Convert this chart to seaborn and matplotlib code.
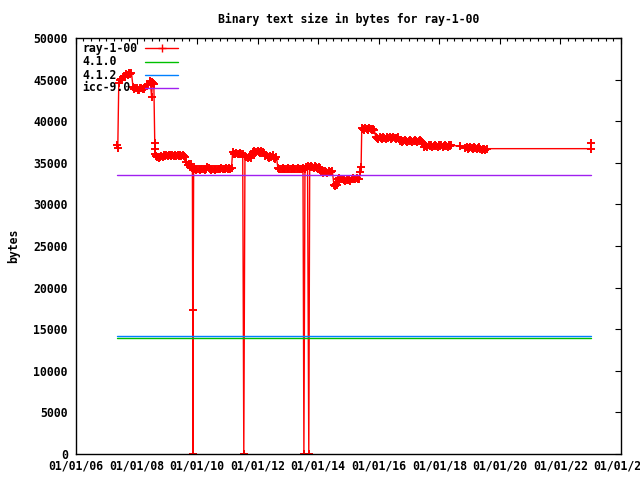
import matplotlib
matplotlib.use('Agg')
import matplotlib.pyplot as plt
import matplotlib.dates as mdates
import pandas as pd
import seaborn as sns

TITLE = 'Binary text size in bytes for ray-1-00'
SERIES_NAMES = ['ray-1-00', '4.1.0', '4.1.2', 'icc-9.0']
SERIES_COLORS = ['#ff0000', '#00c000', '#0080ff', '#a020f0']

# ray-1-00 builds (0 = failed build)
ray_dates = [
    '2007-05-08', '2007-05-20', '2007-06-01', '2007-06-15', '2007-07-01', '2007-07-15',
    '2007-08-01', '2007-08-15', '2007-09-01', '2007-09-15', '2007-10-01', '2007-10-15',
    '2007-11-01', '2007-11-20', '2007-12-01', '2007-12-15', '2008-01-01', '2008-01-15',
    '2008-02-01', '2008-02-15', '2008-03-01', '2008-03-15', '2008-04-01', '2008-04-15',
    '2008-05-01', '2008-05-20', '2008-06-15', '2008-07-01', '2008-07-10', '2008-07-20',
    '2008-07-28', '2008-08-08', '2008-08-12', '2008-08-16', '2008-08-25', '2008-09-10',
    '2008-09-25', '2008-10-10', '2008-10-25', '2008-11-10', '2008-11-25', '2008-12-10',
    '2008-12-25', '2009-01-10', '2009-01-25', '2009-02-10', '2009-02-25', '2009-03-10',
    '2009-03-25', '2009-04-10', '2009-04-25', '2009-05-10', '2009-05-25', '2009-06-10',
    '2009-06-25', '2009-07-10', '2009-07-25', '2009-08-10', '2009-08-25', '2009-09-10',
    '2009-09-25', '2009-10-10', '2009-10-25', '2009-11-05', '2009-11-12', '2009-11-14',
    '2009-11-20', '2009-12-05', '2009-12-20', '2010-01-05', '2010-01-20', '2010-02-05',
    '2010-02-20', '2010-03-05', '2010-03-20', '2010-04-05', '2010-04-20', '2010-05-05',
    '2010-05-20', '2010-06-05', '2010-06-20', '2010-07-05', '2010-07-20', '2010-08-05',
    '2010-08-20', '2010-09-05', '2010-09-20', '2010-10-05', '2010-10-20', '2010-11-05',
    '2010-11-20', '2010-12-05', '2010-12-20', '2011-01-05', '2011-01-20', '2011-02-05',
    '2011-02-20', '2011-03-05', '2011-03-20', '2011-04-05', '2011-04-20', '2011-05-05',
    '2011-05-20', '2011-06-05', '2011-06-20', '2011-07-05', '2011-07-18', '2011-08-01',
    '2011-08-15', '2011-09-01', '2011-09-15', '2011-10-01', '2011-10-15', '2011-11-01',
    '2011-11-15', '2011-12-01', '2011-12-15', '2012-01-01', '2012-01-15', '2012-02-01',
    '2012-02-15', '2012-03-01', '2012-03-15', '2012-04-01', '2012-04-15', '2012-05-01',
    '2012-05-15', '2012-06-01', '2012-06-15', '2012-07-01', '2012-07-15', '2012-08-01',
    '2012-08-15', '2012-09-01', '2012-09-15', '2012-10-01', '2012-10-15', '2012-11-01',
    '2012-11-15', '2012-12-01', '2012-12-15', '2013-01-01', '2013-01-15', '2013-02-01',
    '2013-02-15', '2013-03-01', '2013-03-15', '2013-04-01', '2013-04-15', '2013-05-01',
    '2013-05-15', '2013-06-01', '2013-06-15', '2013-07-01', '2013-07-12', '2013-07-25',
    '2013-08-10', '2013-08-25', '2013-09-09', '2013-09-20', '2013-10-05', '2013-10-20',
    '2013-11-05', '2013-11-20', '2013-12-05', '2013-12-20', '2014-01-05', '2014-01-20',
    '2014-02-05', '2014-02-20', '2014-03-05', '2014-03-20', '2014-04-05', '2014-04-20',
    '2014-05-05', '2014-05-20', '2014-06-05', '2014-06-20', '2014-07-10', '2014-07-20',
    '2014-08-01', '2014-08-15', '2014-08-25', '2014-09-10', '2014-09-25', '2014-10-10',
    '2014-10-25', '2014-11-10', '2014-11-25', '2014-12-10', '2014-12-25', '2015-01-10',
    '2015-01-25', '2015-02-10', '2015-02-25', '2015-03-10', '2015-03-25', '2015-04-10',
    '2015-04-25', '2015-05-10', '2015-05-25', '2015-06-02', '2015-06-10', '2015-06-25',
    '2015-07-10', '2015-07-25', '2015-08-10', '2015-08-25', '2015-09-10', '2015-09-25',
    '2015-10-10', '2015-10-25', '2015-11-10', '2015-11-25', '2015-12-10', '2015-12-25',
    '2016-01-10', '2016-01-25', '2016-02-10', '2016-02-25', '2016-03-10', '2016-03-25',
    '2016-04-10', '2016-04-25', '2016-05-10', '2016-05-25', '2016-06-10', '2016-06-25',
    '2016-07-10', '2016-07-25', '2016-08-10', '2016-08-25', '2016-09-10', '2016-09-25',
    '2016-10-10', '2016-10-25', '2016-11-10', '2016-11-25', '2016-12-10', '2016-12-25',
    '2017-01-10', '2017-01-25', '2017-02-10', '2017-02-25', '2017-03-10', '2017-03-25',
    '2017-04-10', '2017-04-25', '2017-05-10', '2017-05-25', '2017-06-10', '2017-06-25',
    '2017-07-10', '2017-07-25', '2017-08-10', '2017-08-25', '2017-09-10', '2017-09-25',
    '2017-10-10', '2017-10-25', '2017-11-10', '2017-11-25', '2017-12-10', '2017-12-25',
    '2018-01-10', '2018-01-25', '2018-02-10', '2018-02-25', '2018-03-10', '2018-03-25',
    '2018-04-10', '2018-04-25', '2018-05-10', '2018-05-25', '2018-09-05', '2018-11-10',
    '2018-11-25', '2018-12-10', '2018-12-25', '2019-01-10', '2019-01-25', '2019-02-10',
    '2019-02-25', '2019-03-10', '2019-03-25', '2019-04-10', '2019-04-25', '2019-05-10',
    '2019-05-25', '2019-06-10', '2019-06-25', '2019-07-10', '2019-07-25', '2023-01-01',
    '2023-01-06',
]
ray_bytes = [
    37100, 36800, 44600, 45000, 45100, 44900,
    45400, 45300, 45700, 45600, 45800, 45700,
    45800, 44100, 43900, 44000, 44000, 43800,
    43800, 44000, 44000, 43900, 43900, 44100,
    44300, 44400, 44800, 42900, 44700, 44600,
    44500, 37400, 36700, 36000, 35800, 35700,
    35600, 35700, 35800, 35700, 35900, 35800,
    35900, 35800, 35900, 35900, 35800, 35900,
    35800, 35900, 35800, 35900, 35800, 35900,
    35800, 35900, 35800, 35700, 35100, 34700,
    34900, 34500, 34800, 34400, 0, 17300,
    34300, 34200, 34100, 34200, 34300, 34100,
    34200, 34300, 34200, 34100, 34300, 34500,
    34400, 34200, 34100, 34200, 34300, 34100,
    34200, 34300, 34200, 34300, 34400, 34300,
    34200, 34300, 34400, 34300, 34400, 34300,
    34400, 36300, 36100, 36000, 36200, 36100,
    36000, 36200, 36100, 36000, 0, 35800,
    35700, 35600, 35700, 35800, 35600, 36300,
    36400, 36200, 36300, 36400, 36300, 36200,
    36400, 36300, 36200, 35800, 35900, 35700,
    35600, 35800, 35700, 35900, 35600, 35500,
    35700, 34400, 34300, 34200, 34300, 34400,
    34300, 34200, 34300, 34400, 34300, 34200,
    34300, 34400, 34300, 34200, 34300, 34400,
    34300, 34200, 34300, 34400, 0, 34300,
    34500, 34600, 0, 34500, 34600, 34500,
    34400, 34600, 34500, 34400, 34500, 34400,
    33900, 34000, 33800, 34000, 33900, 33800,
    34000, 33900, 33900, 34000, 32300, 32200,
    32400, 32300, 33100, 33200, 33000, 33100,
    33000, 32900, 32800, 32900, 33000, 32900,
    32800, 33100, 33200, 33100, 33000, 33200,
    33100, 33000, 33900, 34500, 39200, 39100,
    39000, 39200, 39100, 39000, 39200, 39100,
    39000, 39100, 38900, 38100, 38000, 37900,
    38100, 38000, 37900, 38100, 38000, 37900,
    38100, 38000, 38100, 37900, 38000, 38100,
    38000, 37900, 38000, 38100, 37600, 37700,
    37500, 37600, 37700, 37600, 37500, 37600,
    37700, 37600, 37500, 37600, 37700, 37600,
    37500, 37600, 37700, 37600, 37500, 36900,
    37100, 37000, 36900, 37100, 37000, 37100,
    36900, 37000, 37100, 37000, 36900, 37100,
    37000, 37100, 36900, 37000, 37100, 37000,
    36900, 37100, 37000, 37100, 37000, 36800,
    36900, 36700, 36800, 36900, 36800, 36700,
    36900, 36800, 36700, 36800, 36900, 36600,
    36500, 36700, 36600, 36500, 36700, 36700,
    37400,
]

# reference compilers (flat)
ref_dates = ['2007-05-08', '2023-01-01']
gcc410_bytes = [13900, 13900]
gcc412_bytes = [14180, 14180]
icc90_bytes = [33500, 33500]

sns.set_theme(style='white')
plt.rcParams['font.family'] = ['DejaVu Sans Mono']
plt.rcParams['font.weight'] = 'bold'
plt.rcParams['text.color'] = 'black'
plt.rcParams['axes.labelcolor'] = 'black'
plt.rcParams['axes.titleweight'] = 'bold'
plt.rcParams['axes.labelweight'] = 'bold'
FS = 8.3

ray = pd.DataFrame({'date': pd.to_datetime(ray_dates), 'bytes': ray_bytes})
refs = pd.DataFrame({'date': pd.to_datetime(ref_dates)})

fig = plt.figure(figsize=(6.4, 4.8), dpi=100)
ax = fig.add_axes([76 / 640, 26 / 480, 545 / 640, 416 / 480])

sns.lineplot(data=ray, x='date', y='bytes', estimator=None, sort=False, ax=ax,
             color=SERIES_COLORS[0], linewidth=1, marker='+', markersize=6,
             markeredgewidth=1.4, markeredgecolor=SERIES_COLORS[0])
for name, vals, col in zip(SERIES_NAMES[1:], [gcc410_bytes, gcc412_bytes, icc90_bytes],
                           SERIES_COLORS[1:]):
    sns.lineplot(x=refs['date'], y=vals, estimator=None, sort=False, ax=ax,
                 color=col, linewidth=1)

ax.set_xlim(pd.Timestamp('2006-01-01'), pd.Timestamp('2024-01-01'))
ax.set_ylim(0, 50000)
ax.set_yticks(range(0, 50001, 5000))
ax.xaxis.set_major_locator(mdates.YearLocator(2))
ax.xaxis.set_minor_locator(mdates.MonthLocator(bymonth=[1, 4, 7, 10]))
ax.xaxis.set_major_formatter(mdates.DateFormatter('%m/%d/%y'))

ax.tick_params(which='both', direction='in', top=True, right=True, colors='black',
               width=0.8, labelsize=FS)
ax.tick_params(which='major', length=4)
ax.tick_params(which='minor', length=2)
ax.tick_params(axis='x', pad=4)
ax.tick_params(axis='y', pad=6)
for s in ax.spines.values():
    s.set_color('black')
    s.set_linewidth(1)

ax.set_title(TITLE, fontsize=FS, pad=11, fontweight='bold', color='black')
ax.set_xlabel('')
ax.set_ylabel('bytes', fontsize=FS, fontweight='bold', color='black')
ax.yaxis.set_label_coords(-0.102, 0.5)

# gnuplot-style key: text left, sample on the right
rows = [0.975, 0.943, 0.911, 0.880]
for name, col, yy in zip(SERIES_NAMES, SERIES_COLORS, rows):
    ax.text(0.011, yy, name, transform=ax.transAxes, fontsize=FS, va='center',
            ha='left', color='black', zorder=10)
    ax.plot([0.127, 0.187], [yy, yy], transform=ax.transAxes, color=col, lw=1,
            zorder=10, clip_on=False)
ax.plot([0.157], [rows[0]], transform=ax.transAxes, color=SERIES_COLORS[0],
        marker='+', markersize=6, markeredgewidth=1, zorder=10)

fig.savefig('out.png', dpi=100)
